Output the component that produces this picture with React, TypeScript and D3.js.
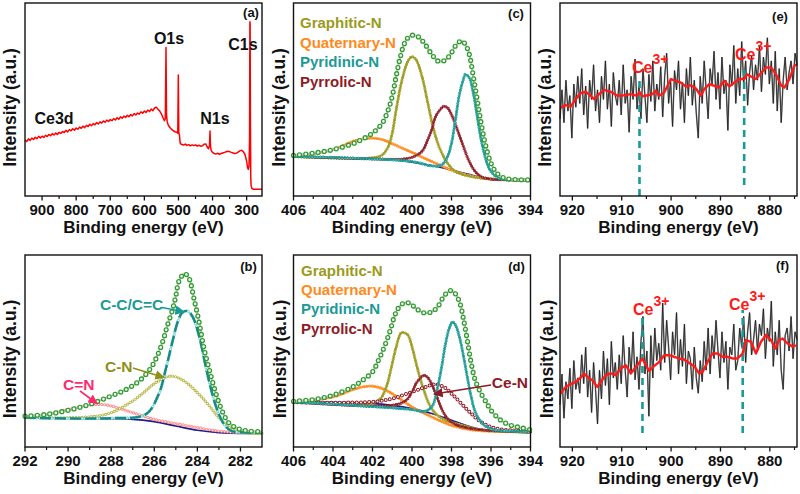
import React from 'react';
import * as d3 from 'd3';

type Pt = [number, number];

// ---------- Panel (a): survey ----------
const surveyA: Pt[] = [
  [950, 29.0], [945, 28.2], [940, 29.6], [935, 28.8], [930, 30.0], [925, 29.3], [920, 30.4], [915, 29.7], [910, 30.9], [905, 30.1],
  [900, 31.0], [895, 30.3], [890, 31.4], [885, 30.8], [880, 31.9], [875, 31.2], [870, 32.3], [865, 31.6], [860, 32.6], [855, 31.9],
  [850, 33.0], [845, 32.4], [840, 33.4], [835, 32.9], [830, 34.0], [825, 33.2], [820, 34.4], [815, 33.8], [810, 34.8], [805, 34.1],
  [800, 35.2], [795, 34.6], [790, 35.7], [785, 35.1], [780, 36.2], [775, 35.4], [770, 36.6], [765, 36.0], [760, 37.2], [755, 36.4],
  [750, 37.5], [745, 36.9], [740, 38.0], [735, 37.3], [730, 38.4], [725, 37.8], [720, 38.9], [715, 38.2], [710, 39.3], [705, 38.6],
  [700, 39.6], [695, 39.0], [690, 40.1], [685, 39.4], [680, 40.5], [675, 39.8], [670, 41.0], [665, 40.3], [660, 41.4], [655, 40.7],
  [650, 41.8], [645, 41.1], [640, 42.2], [635, 41.5], [630, 42.7], [625, 42.0], [620, 43.0], [615, 42.4], [610, 43.6], [605, 42.9],
  [600, 44.0], [595, 43.3], [590, 44.5], [585, 43.8], [580, 45.0], [575, 44.2], [570, 45.6], [565, 46.0], [560, 45.0], [555, 44.0],
  [550, 42.5], [545, 40.5], [541, 39.0], [538.5, 40.0], [536.5, 77.0], [535, 42.0], [533, 38.5], [530, 36.8], [525, 35.5], [520, 34.5],
  [515, 33.8], [510, 33.3], [505, 33.0], [502, 32.5], [500.4, 62.7], [499, 33.0], [497, 31.5], [495, 27.5], [492, 26.8], [485, 26.4],
  [480, 26.9], [475, 26.2], [470, 26.6], [465, 26.0], [460, 26.5], [455, 26.1], [450, 26.5], [445, 25.9], [440, 26.3], [435, 25.8],
  [430, 26.0], [425, 26.8], [420, 27.0], [416, 25.5], [412, 24.5], [409, 26.0], [407.5, 33.7], [406, 26.0], [404, 23.5], [400, 22.6],
  [395, 22.0], [390, 21.7], [385, 22.2], [380, 21.6], [375, 22.0], [370, 22.3], [365, 22.6], [360, 22.9], [355, 23.2], [350, 23.0],
  [345, 22.6], [340, 22.3], [335, 22.0], [330, 22.2], [325, 22.7], [320, 23.4], [315, 23.7], [310, 23.0], [305, 21.5], [300, 18.0],
  [297, 14.5], [295, 13.8], [293, 15.5], [291.5, 30.0], [290.5, 89.0], [290.2, 90.3], [289.8, 89.0], [289, 40.0], [288, 10.0], [287, 5.5],
  [285, 4.0], [280, 3.5], [270, 3.5], [255, 3.5],
];

// ---------- Panel (b): C1s ----------
const envB: Pt[] = [
  [292, 16.1], [291, 17.0], [290, 19.1], [289, 22.2], [288, 26.6], [287.3, 30.0], [286.7, 34.4], [286.2, 40.5], [285.9, 46.5],
  [285.6, 55.2], [285.4, 63.0], [285.15, 71.7], [285.0, 78.6], [284.85, 86.5], [284.6, 90.3], [284.4, 88.2], [284.15, 76.9],
  [283.9, 63.9], [283.7, 51.7], [283.45, 40.5], [283.15, 28.3], [282.85, 18.8], [282.55, 12.7], [282.1, 9.5], [281.6, 8.3], [281.0, 8.0],
];
const baseB: Pt[] = [[292, 15.3], [289, 14.9], [287, 14.4], [286, 13.2], [285, 10.9], [284, 8.7], [283, 7.5], [282, 7.1], [281, 7.1]];
const ccB: Pt[] = [
  [292, 15.3], [288, 15.0], [286.4, 17.0], [285.8, 27.4], [285.45, 41.3], [285.15, 55.2], [284.9, 65.6], [284.7, 70.0], [284.45, 70.8],
  [284.2, 67.4], [283.9, 56.9], [283.6, 41.3], [283.3, 27.4], [283.0, 17.0], [282.7, 10.9], [282.4, 8.3], [281, 7.5],
];
const cnB: Pt[] = [
  [292, 15.3], [289, 15.7], [288, 17.9], [287, 24.0], [286.5, 28.3], [286, 33.0], [285.5, 36.1], [285.2, 37.0], [284.9, 36.1],
  [284.5, 33.5], [284, 28.3], [283.5, 22.2], [283, 15.3], [282.5, 10.1], [282, 8.0], [281, 7.1],
];
const cdnB: Pt[] = [
  [292, 15.6], [291, 17.0], [290, 19.6], [289, 21.9], [288.5, 22.2], [288, 21.4], [287, 17.9], [286, 14.4], [285, 12.2], [284, 10.1],
  [283, 8.3], [282, 7.5], [281, 7.1],
];

// ---------- Panel (c): N1s ----------
const envC: Pt[] = [
  [406, 21.0], [405, 22.2], [404, 24.0], [403, 27.1], [402.5, 29.5], [402, 32.6], [401.5, 37.8], [401.2, 44.8], [401, 51.7], [400.8, 62.2],
  [400.6, 71.7], [400.4, 78.6], [400.2, 82.1], [400, 83.3], [399.7, 82.6], [399.4, 79.5], [399, 73.4], [398.7, 70.0], [398.4, 70.0],
  [398.1, 72.6], [397.8, 77.8], [397.5, 80.4], [397.3, 78.6], [397.1, 73.4], [396.9, 62.2], [396.7, 50.0], [396.5, 37.8], [396.3, 27.4],
  [396, 17.0], [395.7, 11.8], [395.3, 9.2], [395, 8.7], [394, 8.3],
];
const baseC: Pt[] = [[406, 20.5], [403, 19.6], [401, 18.75], [400, 17.5], [399, 15.8], [398, 13.5], [397, 10.9], [396.3, 9.0], [395.5, 8.3], [394, 8.3]];
const quatC: Pt[] = [
  [406, 20.8], [405, 22.0], [404, 24.0], [403, 28.3], [402.5, 29.5], [402, 30.0], [401.5, 29.2], [401, 27.1], [400, 22.6], [399, 17.9],
  [398, 13.5], [397, 10.4], [396, 8.9], [394, 8.3],
];
const graphC: Pt[] = [
  [406, 20.5], [402, 19.8], [401.5, 21.4], [401.2, 25.7], [401, 32.6], [400.8, 44.8], [400.5, 60.4], [400.2, 70.0], [400, 72.2],
  [399.8, 70.8], [399.5, 62.2], [399.2, 48.3], [398.9, 34.4], [398.6, 24.8], [398.2, 17.0], [397.8, 12.7], [397, 10.1], [396, 8.8], [394, 8.3],
];
const pyrrC: Pt[] = [
  [406, 20.5], [401, 19.0], [400.5, 19.1], [400, 20.1], [399.5, 23.1], [399.2, 29.2], [399, 34.4], [398.8, 41.3], [398.5, 45.7],
  [398.4, 46.5], [398.2, 45.7], [398, 42.2], [397.7, 34.4], [397.4, 25.7], [397.1, 17.9], [396.8, 12.7], [396.5, 10.1], [396, 8.8], [394, 8.3],
];
const pyriC: Pt[] = [
  [406, 20.5], [400, 17.9], [399, 15.6], [398.5, 16.1], [398.2, 20.5], [398, 27.4], [397.8, 39.6], [397.6, 52.6], [397.4, 60.4],
  [397.3, 63.0], [397.1, 61.3], [396.9, 53.5], [396.7, 41.3], [396.5, 29.2], [396.2, 17.0], [396, 12.7], [395.6, 9.2], [395, 8.5], [394, 8.3],
];

// ---------- Panel (d): N1s with Ce ----------
const envD: Pt[] = [
  [406, 23.8], [405, 24.7], [404, 27.0], [403, 31.3], [402.5, 34.8], [402, 39.1], [401.7, 45.2], [401.4, 52.2], [401.1, 60.9], [400.9, 67.8],
  [400.7, 72.2], [400.4, 75.1], [400.1, 74.8], [399.8, 72.2], [399.4, 69.9], [399, 70.4], [398.7, 73.0], [398.4, 78.3], [398.1, 81.4],
  [397.9, 80.9], [397.6, 75.7], [397.4, 67.0], [397.2, 55.7], [397, 43.5], [396.8, 34.8], [396.5, 27.8], [396.2, 22.6], [396, 19.1],
  [395.5, 13.9], [395, 11.3], [394.5, 10.1], [394, 9.0],
];
const baseD: Pt[] = [[406, 23.5], [403, 23.1], [401, 21.7], [400, 20.0], [399, 17.4], [398, 13.9], [397, 10.4], [396.5, 9.0], [396, 8.3], [394, 7.8]];
const quatD: Pt[] = [
  [406, 23.8], [404, 26.1], [403, 29.9], [402.5, 31.3], [402, 31.7], [401.5, 30.4], [401, 27.8], [400.5, 24.3], [400, 20.9], [399, 15.7],
  [398, 11.3], [397, 9.0], [396, 8.2], [394, 7.8],
];
const graphD: Pt[] = [
  [406, 23.5], [402, 23.0], [401.6, 25.2], [401.3, 31.3], [401, 43.5], [400.8, 52.2], [400.55, 59.5], [400.4, 59.6], [400.2, 58.3],
  [400, 52.2], [399.7, 40.0], [399.4, 29.6], [399.1, 21.7], [398.8, 17.4], [398.3, 13.9], [397.5, 11.5], [396.5, 9.0], [394, 7.8],
];
const pyriD: Pt[] = [
  [406, 23.5], [400, 19.5], [399.4, 18.5], [399, 20.9], [398.7, 31.3], [398.5, 41.7], [398.3, 53.9], [398.1, 62.3], [397.95, 65.2],
  [397.8, 63.5], [397.6, 57.4], [397.4, 47.8], [397.2, 36.5], [397, 26.1], [396.8, 18.3], [396.5, 13.0], [396.2, 10.4], [395.8, 9.0], [394, 7.8],
];
const pyrrD: Pt[] = [
  [406, 23.5], [401, 21.7], [400.3, 24.3], [400, 28.7], [399.8, 33.0], [399.6, 35.7], [399.4, 37.4], [399.2, 36.2], [399, 32.7],
  [398.8, 27.8], [398.5, 20.0], [398.2, 14.8], [397.8, 11.8], [397.3, 10.2], [396.5, 9.0], [394, 7.8],
];
const ceND: Pt[] = [
  [406, 23.3], [402, 23.5], [401, 25.2], [400, 28.7], [399.3, 31.3], [398.8, 32.7], [398.4, 31.3], [398, 27.8], [397.5, 22.6],
  [397, 17.4], [396.5, 13.0], [396, 10.4], [395.5, 9.2], [395, 8.7], [394, 8.0],
];

// ---------- Panels (e), (f): Ce3d ----------
const rawStart = 922.5;
const rawStep = 0.4;
const rawE: number[] = [
  40, 55, 38, 60, 44, 52, 30, 58, 46, 62,
  48, 66, 42, 57, 35, 60, 50, 68, 44, 55,
  38, 62, 50, 70, 45, 58, 36, 64, 52, 47,
  60, 42, 68, 48, 55, 33, 62, 50, 71, 45,
  57, 40, 66, 52, 38, 63, 49, 70, 44, 58,
  50, 67, 41, 62, 74, 48, 60, 36, 65, 55,
  70, 45, 59, 38, 66, 52, 72, 47, 60, 43,
  30, 62, 48, 70, 55, 40, 66, 58, 75, 50,
  64, 45, 72, 53, 60, 34, 68, 57, 78, 48,
  66, 52, 80, 58, 70, 47, 64, 73, 55, 68,
  60, 78, 54, 72, 63, 82, 58, 70, 48, 75,
  44, 66, 38, 60, 72, 55, 64, 70, 58, 74,
  68,
];
const smoothE: Pt[] = [
  [922.36, 45.8], [921.34, 47.1], [920.33, 46.4], [919.31, 50.2], [918.3, 53.3], [917.28, 54.0], [916.27, 51.9], [915.59, 50.2],
  [914.58, 52.8], [913.57, 55.0], [912.21, 54.0], [910.86, 51.9], [909.51, 52.2], [908.16, 52.8], [906.8, 51.9], [906.4, 54.0],
  [905.79, 51.6], [904.78, 52.2], [903.76, 52.8], [903.09, 54.5], [902.41, 51.9], [901.4, 53.6], [900.72, 57.1], [900.04, 60.6],
  [899.03, 59.7], [898.02, 58.8], [897.0, 56.7], [895.99, 57.4], [894.97, 55.7], [893.96, 51.9], [893.28, 55.4], [892.27, 58.0],
  [891.25, 57.1], [890.24, 56.2], [889.23, 59.7], [888.21, 56.7], [887.2, 58.8], [886.18, 60.6], [885.17, 60.6], [884.63, 63.1],
  [883.82, 61.9], [882.8, 60.6], [881.79, 63.7], [880.78, 66.6], [879.76, 66.6], [878.75, 63.1], [877.73, 57.4], [877.06, 56.2],
  [876.04, 60.6], [875.03, 67.5], [874.49, 68.3],
];
const rawF: number[] = [
  22, 38, 15, 34, 25, 41, 20, 45, 30, 36,
  28, 48, 33, 52, 26, 40, 18, 44, 30, 12,
  40, 25, 50, 32, 46, 22, 55, 36, 44, 30,
  48, 33, 58, 40, 26, 52, 38, 60, 35, 47,
  30, 55, 68, 38, 50, 16, 58, 36, 62, 45,
  54, 40, 75, 44, 66, 52, 35, 60, 48, 70,
  38, 56, 42, 64, 33, 50, 46, 30, 52, 36,
  28, 45, 34, 55, 40, 62, 38, 58, 46, 66,
  50, 36, 60, 44, 55, 30, 52, 48, 64, 40,
  45, 62, 52, 68, 44, 60, 70, 48, 56, 66,
  50, 64, 58, 72, 46, 62, 55, 76, 42, 60,
  48, 66, 40, 30, 58, 62, 50, 68, 46, 60,
  56,
];
const smoothF: Pt[] = [
  [922.37, 27.8], [921.35, 31.3], [920.34, 32.7], [919.32, 33.9], [918.31, 36.2], [917.63, 38.3], [916.96, 36.5], [915.94, 34.8],
  [914.93, 31.3], [914.25, 33.9], [913.24, 37.4], [912.23, 38.3], [911.21, 37.4], [910.2, 40.9], [909.18, 42.6], [908.17, 38.3],
  [907.15, 41.7], [905.8, 46.1], [905.13, 42.6], [904.45, 39.7], [903.44, 42.1], [902.42, 44.3], [901.41, 47.8], [900.39, 47.8],
  [899.38, 47.0], [898.37, 46.1], [897.35, 45.6], [896.34, 43.8], [895.32, 42.1], [894.31, 38.3], [893.63, 39.1], [892.62, 44.3],
  [891.6, 48.7], [890.59, 48.7], [889.58, 47.0], [888.56, 47.0], [887.55, 46.1], [886.53, 46.1], [885.52, 48.7], [884.84, 55.7],
  [883.83, 54.8], [882.81, 48.7], [881.8, 54.8], [880.79, 58.3], [879.77, 55.7], [878.89, 51.3], [878.08, 55.7], [877.41, 56.5],
  [876.39, 53.9], [875.38, 52.2], [874.7, 53.0],
];
const ceLinesE: [number, number, number][] = [[906.4, 0, 61.7], [885.2, 5.7, 67.9]];
const ceLinesF: [number, number, number][] = [[905.8, 7.3, 68.75], [885.5, 7.3, 71.4]];

// ---------- Axis ticks ----------
const ticksA = [900, 800, 700, 600, 500, 400, 300];
const minorA = [850, 750, 650, 550, 450, 350];
const ticksB = [292, 290, 288, 286, 284, 282];
const minorB = [291, 289, 287, 285, 283];
const ticksN = [406, 404, 402, 400, 398, 396, 394];
const minorN = [405, 403, 401, 399, 397, 395];
const ticksCe = [920, 910, 900, 890, 880];
const minorCe = [915, 905, 895, 885, 875];

const legendN = [
  { name: 'Graphitic-N', color: '#9a9a1c' },
  { name: 'Quaternary-N', color: '#ff8a1c' },
  { name: 'Pyridinic-N', color: '#1a9a96' },
  { name: 'Pyrrolic-N', color: '#8e1a26' },
];

// ---------- Layout ----------
const COL_X = [25, 293.5, 560];
const COL_W = 237;
const ROW_TOP = [3, 255];
const ROW_BOT = [196, 447];
const FONT = "'Liberation Sans', Arial, Helvetica, sans-serif";

const C = {
  env: '#2f9e2f',
  olive: '#9a9a1c',
  orange: '#ff8a1c',
  teal: '#1a9a96',
  dred: '#8e1a26',
  navy: '#1c1c8a',
  gray: '#c4c4c4',
  pink: '#ff2a6e',
};

function scales(col: number, row: number, domain: [number, number]) {
  const x0 = COL_X[col];
  const x1 = x0 + COL_W;
  const y0 = ROW_TOP[row];
  const y1 = ROW_BOT[row];
  const x = d3.scaleLinear().domain(domain).range([x0, x1]);
  const y = d3.scaleLinear().domain([0, 100]).range([y1, y0]);
  return { x, y, x0, x1, y0, y1 };
}
type S = ReturnType<typeof scales>;

function Frame({ s, majors, minors, ylabX }: { s: S; majors: number[]; minors: number[]; ylabX: number }) {
  const cx = (s.x0 + s.x1) / 2;
  const cy = (s.y0 + s.y1) / 2 + 8;
  return (
    <g>
      <rect x={s.x0} y={s.y0} width={s.x1 - s.x0} height={s.y1 - s.y0} fill="none" stroke="#111" strokeWidth={1.4} />
      {majors.map((t) => (
        <g key={'M' + t}>
          <line x1={s.x(t)} x2={s.x(t)} y1={s.y1} y2={s.y1 + 4.5} stroke="#111" strokeWidth={1.3} />
          <text x={s.x(t)} y={s.y1 + 18.5} textAnchor="middle" fontFamily={FONT} fontWeight="bold" fontSize={15} fill="#111">
            {t}
          </text>
        </g>
      ))}
      {minors.map((t) => (
        <line key={'m' + t} x1={s.x(t)} x2={s.x(t)} y1={s.y1} y2={s.y1 + 3} stroke="#111" strokeWidth={1.2} />
      ))}
      <text x={cx} y={s.y1 + 37} textAnchor="middle" fontFamily={FONT} fontWeight="bold" fontSize={17} fill="#111">
        Binding energy (eV)
      </text>
      <text
        transform={`translate(${ylabX},${cy}) rotate(-90)`}
        textAnchor="middle"
        dominantBaseline="central"
        fontFamily={FONT}
        fontWeight="bold"
        fontSize={17.5}
        fill="#111"
      >
        Intensity (a.u.)
      </text>
    </g>
  );
}

function Rings({ d, color, size, thick, gap }: { d: string; color: string; size: number; thick: number; gap: number }) {
  return (
    <g>
      <path d={d} fill="none" stroke={color} strokeWidth={size} strokeDasharray={`0 ${gap}`} strokeLinecap="round" />
      <path d={d} fill="none" stroke="#fff" strokeWidth={size - 2 * thick} strokeDasharray={`0 ${gap}`} strokeLinecap="round" />
    </g>
  );
}

function lineGen(s: S, curve: d3.CurveFactory = d3.curveCatmullRom.alpha(0.5)) {
  return d3
    .line<Pt>()
    .x((p) => s.x(p[0]))
    .y((p) => s.y(p[1]))
    .curve(curve);
}

function Component({ s, data, color }: { s: S; data: Pt[]; color: string }) {
  const d = lineGen(s)(data) || '';
  return (
    <g>
      <Rings d={d} color={color} size={3.1} thick={0.8} gap={2.7} />
      <path d={d} fill="none" stroke={color} strokeWidth={1.2} />
    </g>
  );
}

function Envelope({ s, data }: { s: S; data: Pt[] }) {
  const d = lineGen(s)(data) || '';
  return (
    <g>
      <path d={d} fill="none" stroke={C.gray} strokeWidth={2.2} />
      <Rings d={d} color={C.env} size={5.2} thick={1.3} gap={6.2} />
    </g>
  );
}

function Baseline({ s, data }: { s: S; data: Pt[] }) {
  const d = lineGen(s, d3.curveMonotoneX)(data) || '';
  return <path d={d} fill="none" stroke={C.navy} strokeWidth={1.6} />;
}

function Legend({ x, y, dy }: { x: number; y: number; dy: number }) {
  return (
    <g>
      {legendN.map((l, i) => (
        <text key={l.name} x={x} y={y + i * dy} fontFamily={FONT} fontWeight="bold" fontSize={15} fill={l.color}>
          {l.name}
        </text>
      ))}
    </g>
  );
}

function Lab({ x, y, t, size = 13 }: { x: number; y: number; t: string; size?: number }) {
  return (
    <text x={x} y={y} textAnchor="middle" fontFamily={FONT} fontWeight="bold" fontSize={size} fill="#111">
      {t}
    </text>
  );
}

function CeLabel({ x, y }: { x: number; y: number }) {
  return (
    <text x={x} y={y} fontFamily={FONT} fontWeight="bold" fontSize={16} fill="#ff1a1a">
      Ce
      <tspan dy={-9} fontSize={14}>
        3+
      </tspan>
    </text>
  );
}

function Arrow({ x1, y1, x2, y2, color, id }: { x1: number; y1: number; x2: number; y2: number; color: string; id: string }) {
  return <line x1={x1} y1={y1} x2={x2} y2={y2} stroke={color} strokeWidth={1.6} markerEnd={`url(#${id})`} />;
}

function CePanel({ s, raw, smooth, lines }: { s: S; raw: number[]; smooth: Pt[]; lines: [number, number, number][] }) {
  const rawPts: Pt[] = raw.map((v, i) => [rawStart - rawStep * i, v]);
  const dRaw = lineGen(s, d3.curveLinear)(rawPts) || '';
  const dSm = lineGen(s, d3.curveLinear)(smooth) || '';
  return (
    <g>
      <path d={dRaw} fill="none" stroke="#9a9a9a" strokeWidth={1.6} />
      <path d={dRaw} fill="none" stroke="#1a1a1a" strokeWidth={0.8} />
      {lines.map(([be, a, b]) => (
        <line key={be} x1={s.x(be)} x2={s.x(be)} y1={s.y(a)} y2={s.y(b)} stroke={C.teal} strokeWidth={2.6} strokeDasharray="7 5" />
      ))}
      <path d={dSm} fill="none" stroke="#ff1a1a" strokeWidth={2.4} strokeLinejoin="round" />
    </g>
  );
}

export default function App() {
  const sA = scales(0, 0, [950, 255]);
  const sC = scales(1, 0, [406, 394]);
  const sE = scales(2, 0, [922.5, 874.5]);
  const sB = scales(0, 1, [292, 281]);
  const sD = scales(1, 1, [406, 394]);
  const sF = scales(2, 1, [922.5, 874.5]);

  const dA = lineGen(sA, d3.curveLinear)(surveyA) || '';
  const dCC = lineGen(sB)(ccB) || '';

  const markers = [
    ['arTeal', C.teal],
    ['arOlive', '#8f8f1a'],
    ['arPink', C.pink],
    ['arRed', C.dred],
  ];

  return (
    <svg width={800} height={494} style={{ position: 'absolute', left: 0, top: 0 }} xmlns="http://www.w3.org/2000/svg">
      <defs>
        {markers.map(([id, col]) => (
          <marker key={id} id={id} viewBox="0 0 10 10" refX={9} refY={5} markerWidth={6} markerHeight={6} orient="auto">
            <path d="M0,0 L10,5 L0,10 z" fill={col} />
          </marker>
        ))}
      </defs>
      <rect width={800} height={494} fill="#fff" />

      {/* (a) survey */}
      <path d={dA} fill="none" stroke="#ff0000" strokeWidth={1.5} strokeLinejoin="round" />
      <Frame s={sA} majors={ticksA} minors={minorA} ylabX={10} />
      <Lab x={169} y={44} t="O1s" size={16} />
      <Lab x={243} y={50} t="C1s" size={16} />
      <Lab x={215} y={124} t="N1s" size={16} />
      <Lab x={54} y={124} t="Ce3d" size={16} />
      <Lab x={251} y={17} t="(a)" />

      {/* (c) N1s */}
      <Baseline s={sC} data={baseC} />
      <Component s={sC} data={quatC} color={C.orange} />
      <Component s={sC} data={graphC} color={C.olive} />
      <Component s={sC} data={pyrrC} color={C.dred} />
      <Component s={sC} data={pyriC} color={C.teal} />
      <Envelope s={sC} data={envC} />
      <Frame s={sC} majors={ticksN} minors={minorN} ylabX={278.5} />
      <Legend x={300} y={28} dy={19.7} />
      <Lab x={516} y={18} t="(c)" />

      {/* (e) Ce3d */}
      <CePanel s={sE} raw={rawE} smooth={smoothE} lines={ceLinesE} />
      <Frame s={sE} majors={ticksCe} minors={minorCe} ylabX={545} />
      <CeLabel x={632} y={73} />
      <CeLabel x={735} y={60} />
      <Lab x={780} y={21} t="(e)" />

      {/* (b) C1s */}
      <Baseline s={sB} data={baseB} />
      <Rings d={lineGen(sB)(cdnB) || ''} color="#ff8a8a" size={3.2} thick={0.9} gap={3} />
      <Rings d={lineGen(sB)(cnB) || ''} color="#b8b84a" size={3.2} thick={0.9} gap={3} />
      <Rings d={dCC} color="#7fd0cc" size={3.2} thick={0.9} gap={3} />
      <path d={dCC} fill="none" stroke="#168a86" strokeWidth={2.4} strokeDasharray="11 4" />
      <Envelope s={sB} data={envB} />
      <Frame s={sB} majors={ticksB} minors={minorB} ylabX={10} />
      <text x={100} y={310} fontFamily={FONT} fontWeight="bold" fontSize={15.5} fill={C.teal}>C-C/C=C</text>
      <Arrow x1={162} y1={307.5} x2={184} y2={311.8} color={C.teal} id="arTeal" />
      <text x={105} y={372} fontFamily={FONT} fontWeight="bold" fontSize={15.5} fill="#8f8f1a">C-N</text>
      <Arrow x1={133} y1={368} x2={164} y2={377.5} color="#8f8f1a" id="arOlive" />
      <text x={63} y={390} fontFamily={FONT} fontWeight="bold" fontSize={15.5} fill={C.pink}>C=N</text>
      <Arrow x1={80} y1={391} x2={97} y2={403.5} color={C.pink} id="arPink" />
      <Lab x={248.5} y={271} t="(b)" />

      {/* (d) N1s with Ce-N */}
      <Baseline s={sD} data={baseD} />
      <Component s={sD} data={quatD} color={C.orange} />
      <Component s={sD} data={graphD} color={C.olive} />
      <Rings d={lineGen(sD)(ceND) || ''} color={C.dred} size={4} thick={1} gap={4.2} />
      <Component s={sD} data={pyrrD} color={C.dred} />
      <Component s={sD} data={pyriD} color={C.teal} />
      <Envelope s={sD} data={envD} />
      <Frame s={sD} majors={ticksN} minors={minorN} ylabX={280} />
      <Legend x={301} y={276} dy={19.2} />
      <text x={528} y={388} textAnchor="end" fontFamily={FONT} fontWeight="bold" fontSize={15.5} fill={C.dred}>Ce-N</text>
      <Arrow x1={491} y1={385} x2={434} y2={394} color={C.dred} id="arRed" />
      <Lab x={516.5} y={271} t="(d)" />

      {/* (f) Ce3d */}
      <CePanel s={sF} raw={rawF} smooth={smoothF} lines={ceLinesF} />
      <Frame s={sF} majors={ticksCe} minors={minorCe} ylabX={547} />
      <CeLabel x={633} y={315} />
      <CeLabel x={729} y={310} />
      <Lab x={782.5} y={270} t="(f)" />
    </svg>
  );
}
